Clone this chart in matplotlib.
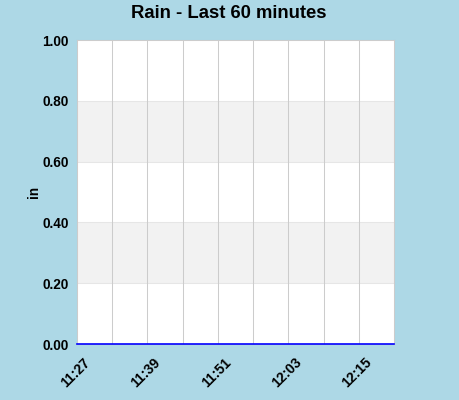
import matplotlib
matplotlib.use("Agg")
import matplotlib.pyplot as plt
import matplotlib.transforms as mtransforms

plt.rcParams['font.family'] = ['Liberation Sans', 'DejaVu Sans']

# minutes after 11:27, one reading every 6 minutes
minutes = [0, 6, 12, 18, 24, 30, 36, 42, 48, 54]
rain_in = [0.0, 0.0, 0.0, 0.0, 0.0, 0.0, 0.0, 0.0, 0.0, 0.0]
tick_minutes = [0, 12, 24, 36, 48]
tick_labels = ["11:27", "11:39", "11:51", "12:03", "12:15"]
y_ticks = [0.0, 0.2, 0.4, 0.6, 0.8, 1.0]

bg = '#add8e6'
fig = plt.figure(figsize=(4.6, 4.0), dpi=100, facecolor=bg)
ax = fig.add_axes([0.1674, 0.14, 0.689, 0.76])
ax.set_facecolor('white')

# alternating bands
for lo, hi in [(0.2, 0.4), (0.6, 0.8)]:
    ax.axhspan(lo, hi, color='#f2f2f2', zorder=0, lw=0)
for y in y_ticks:
    ax.axhline(y, color='#e6e6e6', lw=0.75, zorder=1)
for m in minutes:
    ax.axvline(m, color='#cccccc', lw=0.75, zorder=1)

ax.plot(minutes, rain_in, color='blue', lw=1.2, zorder=3, clip_on=False)

ax.set_xlim(0, 54)
ax.set_ylim(0, 1.0)
ax.set_yticks(y_ticks)
ax.set_yticklabels(["%.2f" % v for v in y_ticks], fontsize=9.8, fontweight='bold')
ax.set_xticks(tick_minutes)
ax.set_xticklabels(tick_labels, rotation=45, ha='right', rotation_mode='anchor',
                   fontsize=10, fontweight='bold')
ax.tick_params(length=0, pad=6)
ax.tick_params(axis='x', pad=8)
shift = mtransforms.ScaledTranslation(6 / 100, 0, fig.dpi_scale_trans)
for lbl in ax.get_xticklabels():
    lbl.set_transform(lbl.get_transform() + shift)

for s in ax.spines.values():
    s.set_color('#cccccc')
    s.set_linewidth(0.75)

ax.set_ylabel('in', fontsize=9.8, fontweight='bold', labelpad=1)
fig.text(0.498, 1 - 14 / 400, 'Rain - Last 60 minutes', fontsize=13.3,
         fontweight='bold', ha='center', va='center')

fig.savefig('out.png', dpi=100, facecolor=bg)
